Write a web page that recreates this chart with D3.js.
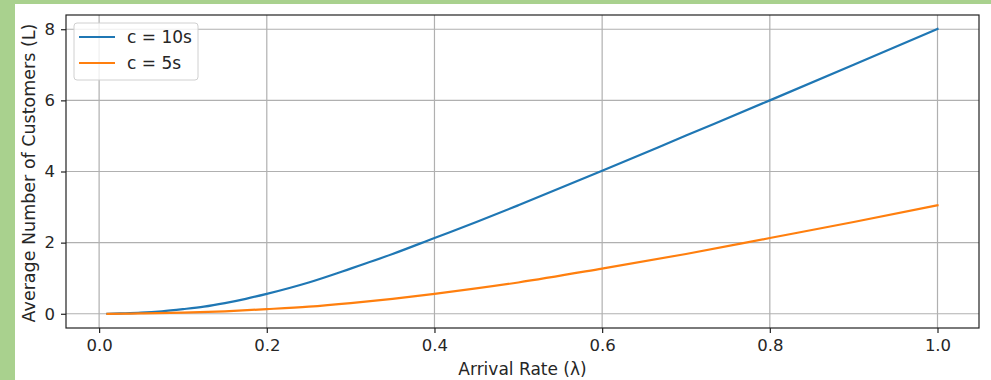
<!DOCTYPE html>
<html>
<head>
<meta charset="utf-8">
<script src="https://cdn.jsdelivr.net/npm/d3@7"></script>
<style>
  body { margin: 0; background: #fff; }
  svg text { font-family: "DejaVu Sans", sans-serif; fill: #262626; }
</style>
</head>
<body>
<div id="graphic"></div>
<script>
(function(d3){

    // Canvas size
    let width = 991, height = 380;

    // Plot area
    let left = 66, right = 979, top = 15, bottom = 328;

    // Arrival rates and average number of customers
    let lambdas10 = [0.01, 0.025, 0.05, 0.075, 0.1, 0.125, 0.15, 0.175, 0.2, 0.25, 0.3, 0.35, 0.4, 0.45, 0.5, 0.6, 0.7, 0.8, 0.9, 1.0];
    let values10  = [0.00, 0.01, 0.03, 0.07, 0.13, 0.20, 0.30, 0.42, 0.56, 0.88, 1.27, 1.68, 2.13, 2.58, 3.05, 4.02, 5.01, 6.00, 7.00, 8.01];

    let lambdas5 = [0.01, 0.05, 0.1, 0.15, 0.2, 0.25, 0.3, 0.35, 0.4, 0.5, 0.6, 0.7, 0.8, 0.9, 1.0];
    let values5  = [0.00, 0.01, 0.03, 0.07, 0.13, 0.20, 0.30, 0.42, 0.56, 0.88, 1.27, 1.68, 2.13, 2.58, 3.05];

    let seriesNames = ['c = 10s', 'c = 5s'];
    let seriesColors = ['#1f77b4', '#ff7f0e'];

    let xTicks = [0.0, 0.2, 0.4, 0.6, 0.8, 1.0];
    let yTicks = [0, 2, 4, 6, 8];

    let svg = d3.select('#graphic')
                .append('svg')
                .attr('width', width)
                .attr('height', height);

    // Green frame of the screenshot
    svg.append('rect').attr('x', 0).attr('y', 0).attr('width', width).attr('height', 4).attr('fill', '#a9d18e');
    svg.append('rect').attr('x', 0).attr('y', 0).attr('width', 15).attr('height', height).attr('fill', '#a9d18e');

    // Scales with matplotlib-like 5% margins
    let xScale = d3.scaleLinear()
        .domain([0.01 - 0.0495, 1.0 + 0.0495])
        .range([left, right]);

    let yScale = d3.scaleLinear()
        .domain([-0.4, 8.4])
        .range([bottom, top]);

    // Grid
    let grid = svg.append('g');
    xTicks.forEach(t => {
        grid.append('line')
            .attr('x1', xScale(t)).attr('x2', xScale(t))
            .attr('y1', top).attr('y2', bottom)
            .attr('stroke', '#b0b0b0').attr('stroke-width', 1.2);
    });
    yTicks.forEach(t => {
        grid.append('line')
            .attr('x1', left).attr('x2', right)
            .attr('y1', yScale(t)).attr('y2', yScale(t))
            .attr('stroke', '#b0b0b0').attr('stroke-width', 1.2);
    });

    // Axes
    let xAxis = svg.append('g')
        .attr('transform', `translate(0 ${bottom})`)
        .call(d3.axisBottom(xScale).tickValues(xTicks).tickFormat(d3.format('.1f')).tickSize(5).tickPadding(6));

    let yAxis = svg.append('g')
        .attr('transform', `translate(${left} 0)`)
        .call(d3.axisLeft(yScale).tickValues(yTicks).tickFormat(d3.format('d')).tickSize(5).tickPadding(6));

    [xAxis, yAxis].forEach(ax => {
        ax.select('.domain').remove();
        ax.selectAll('line').attr('stroke', '#222').attr('stroke-width', 1.2);
        ax.selectAll('text').style('font-size', '16.5px').attr('fill', '#262626');
    });

    // Frame
    svg.append('rect')
        .attr('x', left).attr('y', top)
        .attr('width', right - left).attr('height', bottom - top)
        .attr('fill', 'none').attr('stroke', '#222').attr('stroke-width', 1.2);

    // Lines
    let line = d3.line()
        .x(d => xScale(d[0]))
        .y(d => yScale(d[1]))
        .curve(d3.curveMonotoneX);

    let series = [
        d3.zip(lambdas10, values10),
        d3.zip(lambdas5, values5)
    ];

    series.forEach((s, i) => {
        svg.append('path')
            .attr('d', line(s))
            .attr('fill', 'none')
            .attr('stroke', seriesColors[i])
            .attr('stroke-width', 2.2)
            .attr('stroke-linecap', 'square');
    });

    // Axis labels
    svg.append('text')
        .attr('x', (left + right) / 2)
        .attr('y', 375)
        .attr('text-anchor', 'middle')
        .style('font-size', '17px')
        .text('Arrival Rate (λ)');

    svg.append('text')
        .attr('transform', `translate(34.5 173) rotate(-90)`)
        .attr('text-anchor', 'middle')
        .style('font-size', '17.5px')
        .text('Average Number of Customers (L)');

    // Legend
    let legend = svg.append('g');
    legend.append('rect')
        .attr('x', 74).attr('y', 23)
        .attr('width', 124).attr('height', 57)
        .attr('rx', 3)
        .attr('fill', '#fff').attr('fill-opacity', 0.8)
        .attr('stroke', '#d0d0d0');

    seriesNames.forEach((name, i) => {
        let ly = 37 + i * 26;
        legend.append('line')
            .attr('x1', 79).attr('x2', 115)
            .attr('y1', ly).attr('y2', ly)
            .attr('stroke', seriesColors[i]).attr('stroke-width', 2.2);
        legend.append('text')
            .attr('x', 127).attr('y', ly + 6)
            .style('font-size', '17px')
            .text(name);
    });

})(window.d3);
</script>
</body>
</html>
